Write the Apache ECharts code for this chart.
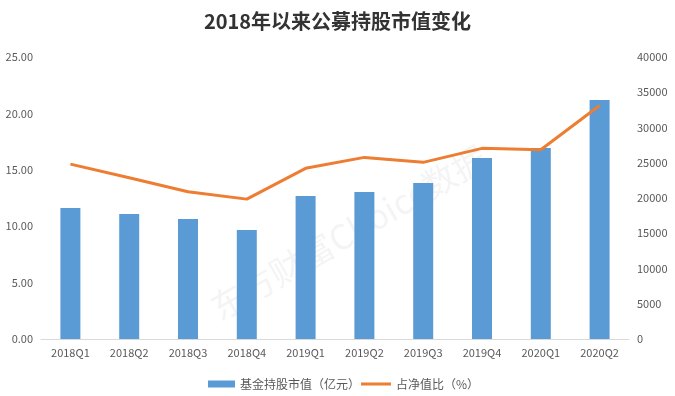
<!DOCTYPE html>
<html>
<head>
<meta charset="utf-8">
<script src="https://cdn.jsdelivr.net/npm/echarts@6/dist/echarts.min.js"></script>
<style>
  html, body { margin: 0; padding: 0; background: #fff; }
  #chart { width: 675px; height: 396px; }
</style>
</head>
<body>
<div id="chart"></div>
<script>
// 季度
const quarters = ['2018Q1', '2018Q2', '2018Q3', '2018Q4', '2019Q1', '2019Q2', '2019Q3', '2019Q4', '2020Q1', '2020Q2']
// 基金持股市值（亿元）
const marketValue = [18580, 17730, 17020, 15460, 20280, 20850, 22130, 25670, 27090, 33900]
// 占净值比（%）
const navRatio = [15.5, 14.3, 13.05, 12.4, 15.13, 16.1, 15.66, 16.9, 16.78, 20.7]

const labelColor = '#595959'
const font = '"Noto Sans CJK SC", "Microsoft YaHei", sans-serif'

const myChart = echarts.init(document.getElementById('chart'))
const option = {
  animation: false,
  title: {
    text: '2018年以来公募持股市值变化',
    left: 'center',
    top: 6,
    textStyle: { fontFamily: font, fontSize: 20, fontWeight: 'bold', color: '#333' }
  },
  graphic: [{
    type: 'text',
    left: 205,
    top: 140,
    rotation: Math.PI / 6,
    silent: true,
    style: {
      text: '东方财富Choice数据',
      font: '34px ' + font,
      fill: 'rgba(200,200,200,0.2)'
    }
  }],
  legend: [
    {
      left: 203, top: 373,
      itemGap: 4,
      itemWidth: 27, itemHeight: 7,
      textStyle: { fontFamily: font, fontSize: 12, color: labelColor },
      data: [{ name: '基金持股市值（亿元）', icon: 'rect' }]
    },
    {
      left: 356, top: 373,
      itemWidth: 30, itemHeight: 3,
      textStyle: { fontFamily: font, fontSize: 12, color: labelColor },
      data: [{ name: '占净值比（%）', icon: 'rect' }]
    }
  ],
  grid: { left: 41, right: 46, top: 57, bottom: 57 },
  xAxis: {
    type: 'category',
    data: quarters,
    axisTick: { show: false },
    axisLine: { lineStyle: { color: '#d9d9d9' } },
    axisLabel: { color: labelColor, fontSize: 11, fontFamily: font, margin: 8 }
  },
  yAxis: [
    {
      type: 'value',
      min: 0, max: 25, interval: 5,
      splitLine: { show: false },
      axisLabel: { color: labelColor, fontSize: 11, fontFamily: font, margin: 8,
        formatter: v => v.toFixed(2) }
    },
    {
      type: 'value',
      min: 0, max: 40000, interval: 5000,
      splitLine: { show: false },
      axisLabel: { color: labelColor, fontSize: 11, fontFamily: font, margin: 8,
        formatter: v => String(v) }
    }
  ],
  series: [
    {
      name: '基金持股市值（亿元）',
      type: 'bar',
      yAxisIndex: 1,
      data: marketValue,
      barWidth: 20,
      itemStyle: { color: '#5B9BD5' }
    },
    {
      name: '占净值比（%）',
      type: 'line',
      yAxisIndex: 0,
      data: navRatio,
      symbol: 'none',
      lineStyle: { color: '#ED7D31', width: 3 },
      itemStyle: { color: '#ED7D31' }
    }
  ]
}
myChart.setOption(option)
</script>
</body>
</html>
